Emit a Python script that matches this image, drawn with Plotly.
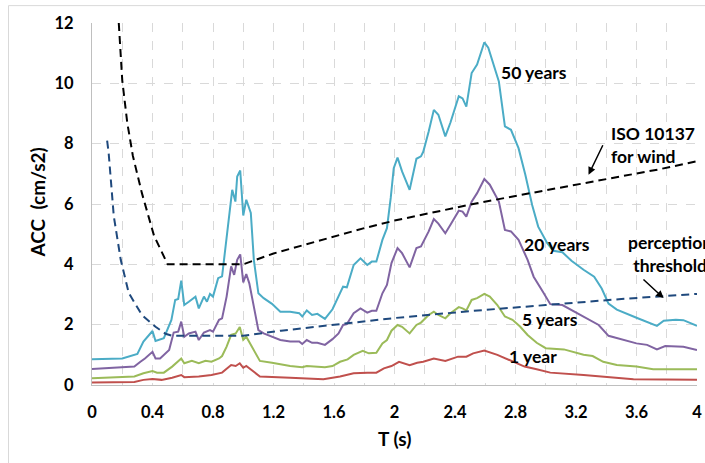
import plotly.graph_objects as go

# ---------------- data ----------------
t_50 = [0, 0.2, 0.3, 0.34, 0.4, 0.42, 0.475, 0.525, 0.55, 0.57, 0.59, 0.61, 0.64, 0.684, 0.706,
        0.74, 0.76, 0.78, 0.80, 0.834, 0.86, 0.89, 0.927, 0.948, 0.96, 0.98, 1.0, 1.02, 1.05,
        1.07, 1.10, 1.135, 1.19, 1.245, 1.31, 1.37, 1.39, 1.42, 1.455, 1.49, 1.54, 1.59, 1.63,
        1.66, 1.685, 1.73, 1.775, 1.82, 1.85, 1.88, 1.92, 1.95, 1.975, 1.995, 2.02, 2.05, 2.10,
        2.145, 2.175, 2.19, 2.226, 2.26, 2.29, 2.336, 2.37, 2.425, 2.45, 2.475, 2.51, 2.546,
        2.594, 2.62, 2.69, 2.73, 2.77, 2.82, 2.865, 2.91, 2.95, 3.01, 3.05, 3.11, 3.17, 3.25,
        3.32, 3.37, 3.415, 3.47, 3.6, 3.735, 3.78, 3.86, 3.91, 4.0]
acc_50 = [0.85, 0.88, 1.03, 1.44, 1.79, 1.46, 1.55, 2.16, 2.82, 2.85, 3.46, 2.65, 2.76, 2.93, 2.54,
          2.93, 2.76, 3.02, 2.93, 3.54, 3.6, 4.81, 6.47, 6.08, 6.91, 7.11, 5.62, 6.14, 5.7,
          4.15, 3.04, 2.88, 2.69, 2.43, 2.43, 2.38, 2.27, 2.47, 2.32, 2.36, 2.19, 2.51, 2.93,
          3.26, 3.24, 3.98, 4.2, 3.98, 4.09, 4.09, 4.81, 5.2, 6.2, 7.19, 7.54, 7.08, 6.47,
          7.5, 7.58, 7.73, 8.4, 9.12, 8.96, 8.24, 8.7, 9.57, 9.5, 9.23, 10.34, 10.62,
          11.36, 11.18, 10.06, 8.57, 8.46, 7.85, 6.97, 5.97, 5.25, 4.7, 4.45, 4.4, 4.12, 3.82,
          3.59, 3.2, 2.7, 2.5, 2.23, 1.96, 2.13, 2.16, 2.15, 1.96]

t_20 = [0, 0.28, 0.32, 0.35, 0.40, 0.42, 0.45, 0.51, 0.54, 0.57, 0.59, 0.61, 0.64, 0.684, 0.706,
        0.74, 0.78, 0.80, 0.84, 0.86, 0.89, 0.92, 0.94, 0.96, 0.98, 1.0, 1.02, 1.04, 1.07, 1.10,
        1.135, 1.19, 1.245, 1.31, 1.37, 1.39, 1.42, 1.455, 1.49, 1.54, 1.59, 1.63, 1.66, 1.685,
        1.73, 1.775, 1.82, 1.85, 1.88, 1.92, 1.95, 1.98, 2.02, 2.05, 2.10, 2.145, 2.175, 2.226,
        2.26, 2.29, 2.336, 2.37, 2.425, 2.45, 2.475, 2.51, 2.546, 2.594, 2.63, 2.69, 2.73, 2.77,
        2.82, 2.88, 2.92, 2.98, 3.03, 3.11, 3.25, 3.35, 3.415, 3.49, 3.6, 3.67, 3.735, 3.79,
        3.87, 3.91, 4.0]
acc_20 = [0.53, 0.61, 0.77, 0.88, 1.1, 0.88, 0.88, 1.16, 1.74, 1.77, 2.1, 1.6, 1.71, 1.77, 1.49,
          1.74, 1.82, 1.77, 2.16, 2.21, 2.93, 3.93, 3.65, 4.15, 4.33, 3.4, 3.68, 3.37, 2.6, 1.82,
          1.71, 1.6, 1.49, 1.44, 1.44, 1.36, 1.49, 1.4, 1.4, 1.33, 1.52, 1.71, 1.99, 2.02,
          2.38, 2.54, 2.4, 2.46, 2.46, 3.04, 3.32, 4.04, 4.54, 4.37, 3.9, 4.54, 4.59, 5.09,
          5.5, 5.35, 5.03, 5.31, 5.78, 5.75, 5.58, 6.08, 6.36, 6.83, 6.64, 6.08, 5.14, 5.09,
          4.81, 4.15, 3.59, 3.1, 2.68, 2.65, 2.25, 1.99, 1.63, 1.52, 1.38, 1.33, 1.18, 1.29,
          1.29, 1.27, 1.16]

t_5 = [0, 0.28, 0.34, 0.40, 0.43, 0.475, 0.53, 0.555, 0.59, 0.61, 0.66, 0.706, 0.75, 0.79, 0.84,
       0.86, 0.89, 0.92, 0.95, 0.977, 0.99, 1.0, 1.02, 1.07, 1.11, 1.19, 1.31, 1.39, 1.42, 1.54,
       1.59, 1.64, 1.69, 1.73, 1.79, 1.83, 1.88, 1.92, 1.95, 1.98, 2.02, 2.05, 2.10, 2.145,
       2.175, 2.226, 2.26, 2.29, 2.336, 2.37, 2.425, 2.45, 2.475, 2.51, 2.546, 2.594, 2.63,
       2.68, 2.73, 2.78, 2.83, 2.88, 2.94, 3.0, 3.12, 3.25, 3.31, 3.38, 3.47, 3.6, 3.71, 4.0]
acc_5 = [0.22, 0.28, 0.39, 0.46, 0.41, 0.41, 0.61, 0.72, 0.88, 0.72, 0.8, 0.72, 0.8, 0.77, 0.88,
         0.96, 1.27, 1.66, 1.71, 1.92, 1.66, 1.5, 1.6, 1.16, 0.8, 0.74, 0.63, 0.59, 0.63, 0.59,
         0.63, 0.77, 0.85, 1.0, 1.13, 1.05, 1.07, 1.38, 1.49, 1.8, 1.99, 1.93, 1.71, 1.99,
         2.07, 2.32, 2.43, 2.32, 2.21, 2.38, 2.58, 2.54, 2.47, 2.82, 2.88, 3.02, 2.93,
         2.65, 2.27, 2.16, 1.94, 1.66, 1.4, 1.22, 1.18, 1.0, 0.96, 0.77, 0.66, 0.61, 0.52, 0.52]

t_1 = [0, 0.28, 0.34, 0.40, 0.46, 0.53, 0.59, 0.61, 0.706, 0.79, 0.86, 0.89, 0.92, 0.95, 0.977,
       1.0, 1.02, 1.07, 1.11, 1.31, 1.53, 1.64, 1.73, 1.82, 1.88, 1.93, 1.98, 2.03, 2.10, 2.15,
       2.19, 2.26, 2.336, 2.42, 2.475, 2.52, 2.594, 2.68, 2.77, 2.86, 2.94, 3.03, 3.25, 3.38,
       3.58, 4.0]
acc_1 = [0.08, 0.1, 0.17, 0.2, 0.17, 0.24, 0.33, 0.26, 0.28, 0.33, 0.41, 0.52, 0.66, 0.63, 0.72,
         0.57, 0.63, 0.44, 0.28, 0.24, 0.19, 0.28, 0.39, 0.41, 0.41, 0.55, 0.63, 0.77, 0.66, 0.74,
         0.77, 0.88, 0.8, 0.94, 0.94, 1.05, 1.14, 1.0, 0.8, 0.61, 0.52, 0.41, 0.33, 0.28,
         0.19, 0.17]

t_iso = [0.177, 0.2, 0.233, 0.27, 0.33, 0.41, 0.5, 1.0, 1.2, 1.4, 1.6, 1.8, 2.0, 2.25, 2.5, 2.75,
         3.0, 3.25, 3.5, 3.75, 4.0]
acc_iso = [12, 10.1, 8.7, 7.6, 6.36, 4.95, 4.0, 4.0, 4.36, 4.64, 4.9, 5.2, 5.45, 5.72, 5.98, 6.22,
           6.45, 6.68, 6.9, 7.15, 7.42]

t_perc = [0.1, 0.11, 0.144, 0.19, 0.243, 0.33, 0.42, 0.486, 0.53, 1.0, 1.25, 1.5, 1.75, 2.0, 2.5,
          3.0, 3.5, 4.0]
acc_perc = [8.1, 7.7, 5.6, 4.15, 3.05, 2.32, 1.93, 1.7, 1.63, 1.63, 1.8, 1.95, 2.08, 2.22, 2.45,
            2.65, 2.85, 3.02]

x_ticks = [0, 0.4, 0.8, 1.2, 1.6, 2.0, 2.4, 2.8, 3.2, 3.6, 4.0]
x_tick_labels = ["0", "0.4", "0.8", "1.2", "1.6", "2", "2.4", "2.8", "3.2", "3.6", "4"]
y_ticks = [0, 2, 4, 6, 8, 10, 12]
y_tick_labels = ["0", "2", "4", "6", "8", "10", "12"]

# ---------------- figure ----------------
FONT = "Lato, 'Open Sans', sans-serif"
fig = go.Figure()

series = [
    (t_1, acc_1, "#C0504D", "1 year"),
    (t_5, acc_5, "#9BBB59", "5 years"),
    (t_20, acc_20, "#8064A2", "20 years"),
    (t_50, acc_50, "#4BACC6", "50 years"),
]
for t, a, c, n in series:
    fig.add_trace(go.Scatter(x=t, y=a, mode="lines", name=n,
                             line=dict(color=c, width=2)))

fig.add_trace(go.Scatter(x=t_perc, y=acc_perc, mode="lines", name="perception threshold",
                         line=dict(color="#1F497D", width=2, dash="8px,5px")))
fig.add_trace(go.Scatter(x=t_iso, y=acc_iso, mode="lines", name="ISO 10137 for wind",
                         line=dict(color="#000000", width=2, dash="8px,5px")))

grid = "#D9D9D9"
tickfont = dict(family=FONT, size=16.5, color="#000", weight="bold")
fig.update_xaxes(range=[0, 4], tickvals=x_ticks, ticktext=x_tick_labels,
                 showgrid=True, gridcolor=grid, griddash="dash", gridwidth=1,
                 minor=dict(dtick=0.2, tick0=0, showgrid=True, gridcolor=grid, griddash="dash"),
                 showline=True, linecolor="#BFBFBF", linewidth=1, zeroline=False,
                 ticks="", ticklabelstandoff=12, tickfont=tickfont)
fig.update_yaxes(range=[0, 12], tickvals=y_ticks, ticktext=y_tick_labels,
                 showgrid=True, gridcolor=grid, griddash="dash", gridwidth=1,
                 showline=True, linecolor="#BFBFBF", linewidth=1, zeroline=False,
                 ticks="", ticklabelstandoff=14, tickfont=tickfont)

lab = dict(family=FONT, size=17.5, color="#000", weight="bold")
annos = [
    dict(x=2.925, y=10.35, text="50 years", showarrow=False, font=lab),
    dict(x=3.076, y=4.645, text="20 years", showarrow=False, font=lab),
    dict(x=3.03, y=2.17, text="5 years", showarrow=False, font=lab),
    dict(x=2.918, y=0.95, text="1 year", showarrow=False, font=lab),
    dict(x=3.42, y=7.95, text="ISO 10137<br>for wind", showarrow=False, font=lab,
         xanchor="left", yanchor="middle", align="left"),
    dict(x=3.82, y=4.35, text="perception<br>threshold", showarrow=False, font=lab,
         xanchor="center", yanchor="middle", align="center"),
    dict(x=3.283, y=6.97, text="", showarrow=True, ax=15, ay=-31, arrowhead=2,
         arrowsize=1, arrowwidth=1.5, arrowcolor="#000"),
    dict(x=3.779, y=2.88, text="", showarrow=True, ax=-21.6, ay=-20, arrowhead=2,
         arrowsize=1, arrowwidth=1.5, arrowcolor="#000"),
    dict(x=-0.09, y=0.503, xref="paper", yref="paper", text="ACC  (cm/s2)",
         textangle=-90, showarrow=False, xanchor="center", yanchor="middle",
         font=dict(family=FONT, size=19, color="#000", weight="bold")),
    dict(x=0.5, y=-0.149, xref="paper", yref="paper", text="T (s)",
         showarrow=False, xanchor="center", yanchor="middle",
         font=dict(family=FONT, size=19, color="#000", weight="bold")),
]
fig.update_layout(
    width=705, height=463,
    margin=dict(l=91.5, r=8.3, t=23.3, b=78, autoexpand=False),
    paper_bgcolor="white", plot_bgcolor="white",
    showlegend=False,
    annotations=annos,
    shapes=[dict(type="rect", xref="paper", yref="paper", x0=-0.138, x1=1.05,
                 y0=-0.3, y1=1.048, line=dict(color="#D9D9D9", width=1), layer="below")],
)
fig.write_html("out.html", config={"displayModeBar": False},
               post_script="document.body.style.margin='0';"
                           "document.body.style.overflow='hidden';"
                           "document.documentElement.style.overflow='hidden';")
